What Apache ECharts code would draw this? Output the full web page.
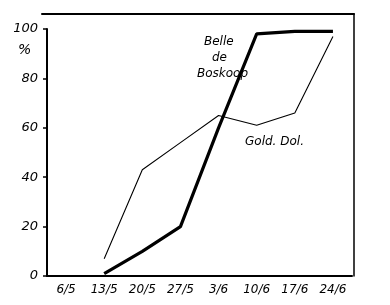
<!DOCTYPE html>
<html><head><meta charset="utf-8">
<script src="https://cdn.jsdelivr.net/npm/echarts@6/dist/echarts.min.js"></script>
<style>html,body{margin:0;padding:0;background:#fff}#c{width:390px;height:305px}</style>
</head><body><div id="c"></div>
<script>
const categories = ['6/5','13/5','20/5','27/5','3/6','10/6','17/6','24/6'];
const belleDeBoskoop = [null, 1, 10, 20, 60, 98, 99, 99];
const goldDol = [null, 7, 43, 54, 65, 61, 66, 97];
const yTicks = [0, 20, 40, 60, 80, 100];

const chart = echarts.init(document.getElementById('c'), null, {renderer:'canvas'});
const font = {fontFamily:'DejaVu Sans', fontStyle:'italic', color:'#000'};
chart.setOption({
  backgroundColor:'#fff',
  animation:false,
  grid:[
    {left:47, right:38, top:29, bottom:29},
    {left:42, right:36, top:14, bottom:29}
  ],
  xAxis:[
    {type:'category', data:categories, gridIndex:0, boundaryGap:true,
     axisLine:{lineStyle:{color:'#000', width:2}},
     axisTick:{alignWithLabel:true, length:5, inside:true, lineStyle:{color:'#000', width:1.5}},
     axisLabel:Object.assign({fontSize:12, margin:8}, font),
     splitLine:{show:false}},
    {type:'value', gridIndex:1, position:'top', min:0, max:1,
     axisLine:{show:true, onZero:false, lineStyle:{color:'#000', width:2}},
     axisTick:{show:false}, axisLabel:{show:false}, splitLine:{show:false}}
  ],
  yAxis:[
    {type:'value', gridIndex:0, min:0, max:100, interval:20,
     axisLine:{show:true, lineStyle:{color:'#000', width:2}},
     axisTick:{show:true, length:4, lineStyle:{color:'#000', width:1.5}},
     axisLabel:Object.assign({fontSize:13, margin:9,
       formatter:v => yTicks.includes(v) ? String(v) : ''}, font),
     splitLine:{show:false}},
    {type:'value', gridIndex:1, position:'right', min:0, max:1,
     axisLine:{show:true, onZero:false, lineStyle:{color:'#000', width:1.5}},
     axisTick:{show:false}, axisLabel:{show:false}, splitLine:{show:false}}
  ],
  series:[
    {name:'Belle de Boskoop', type:'line', data:belleDeBoskoop, xAxisIndex:0, yAxisIndex:0,
     showSymbol:false, symbol:'none', connectNulls:false,
     lineStyle:{color:'#000', width:3.2}},
    {name:'Gold. Dol.', type:'line', data:goldDol, xAxisIndex:0, yAxisIndex:0,
     showSymbol:false, symbol:'none',
     lineStyle:{color:'#000', width:1.1}}
  ],
  graphic:[
    {type:'text', left:18, top:43, style:{text:'%', fontSize:14, fill:'#000', fontFamily:'DejaVu Sans', fontStyle:'italic'}},
    {type:'text', left:204, top:36, style:{text:'Belle', fontSize:12, fill:'#000', fontFamily:'DejaVu Sans', fontStyle:'italic'}},
    {type:'text', left:212, top:52, style:{text:'de', fontSize:12, fill:'#000', fontFamily:'DejaVu Sans', fontStyle:'italic'}},
    {type:'text', left:197, top:68, style:{text:'Boskoop', fontSize:12, fill:'#000', fontFamily:'DejaVu Sans', fontStyle:'italic'}},
    {type:'text', left:245, top:136, style:{text:'Gold. Dol.', fontSize:12, fill:'#000', fontFamily:'DejaVu Sans', fontStyle:'italic'}}
  ]
});
</script></body></html>
